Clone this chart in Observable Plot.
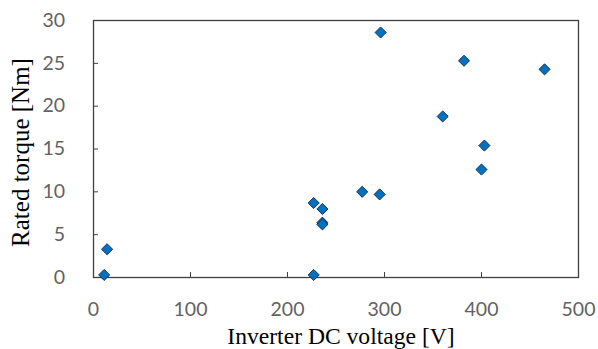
<!DOCTYPE html>
<html>
<head>
<meta charset="utf-8">
<script src="https://cdn.jsdelivr.net/npm/d3@7"></script>
<script src="https://cdn.jsdelivr.net/npm/@observablehq/plot@0.6"></script>
<style>
  html, body { margin: 0; padding: 0; background: #fff; }
</style>
</head>
<body>
<div id="chart"></div>
<script>
const voltage = [11, 14, 227, 236, 236, 236, 227, 277, 295, 296, 382, 465, 360, 403, 400];
const torque  = [0.3, 3.3, 8.7, 8.0, 6.4, 6.2, 0.3, 10.0, 9.7, 28.6, 25.3, 24.3, 18.8, 15.4, 12.6];
const xTicks = [0, 100, 200, 300, 400, 500];
const yTicks = [0, 5, 10, 15, 20, 25, 30];
const xTitle = "Inverter DC voltage [V]";
const yTitle = "Rated torque [Nm]";

const data = voltage.map((v, i) => ({v, t: torque[i]}));
const tickFont = "Lato, 'Open Sans', sans-serif";
const titleFont = "'Liberation Serif', 'DejaVu Serif', serif";

const chart = Plot.plot({
  width: 598,
  height: 349,
  marginLeft: 93,
  marginRight: 20,
  marginTop: 20,
  marginBottom: 72,
  x: {domain: [0, 500]},
  y: {domain: [0, 30]},
  style: {background: "#fff"},
  marks: [
    // inward tick marks
    Plot.axisX({ticks: xTicks, text: null, tickSize: 5, dy: -5, stroke: "#404040", label: null}),
    Plot.axisY({ticks: yTicks, text: null, tickSize: 5, dx: 5, stroke: "#404040", label: null}),
    // tick labels
    Plot.axisX({ticks: xTicks, tickSize: 0, tickPadding: 25, fontSize: 19.5, fontFamily: tickFont, fill: "#626262", label: null}),
    Plot.axisY({ticks: yTicks, tickSize: 0, tickPadding: 28.5, fontSize: 19.5, fontFamily: tickFont, fill: "#626262", label: null}),
    Plot.frame({stroke: "#404040", strokeWidth: 1.3}),
    Plot.dot(data, {x: "v", y: "t", symbol: "diamond2", r: 5, fill: "#0070C0", stroke: "#1c3350", strokeWidth: 1}),
    Plot.text([xTitle], {frameAnchor: "bottom", dy: 66, dx: 5, textAnchor: "middle", lineAnchor: "bottom", fontSize: 23.6, letterSpacing: 0.35, fontFamily: titleFont, fill: "#000"}),
    Plot.text([yTitle], {frameAnchor: "left", dx: -65, dy: 3.5, rotate: -90, textAnchor: "middle", lineAnchor: "bottom", fontSize: 25, letterSpacing: 0.8, fontFamily: titleFont, fill: "#000"})
  ]
});
document.getElementById("chart").appendChild(chart);
</script>
</body>
</html>
